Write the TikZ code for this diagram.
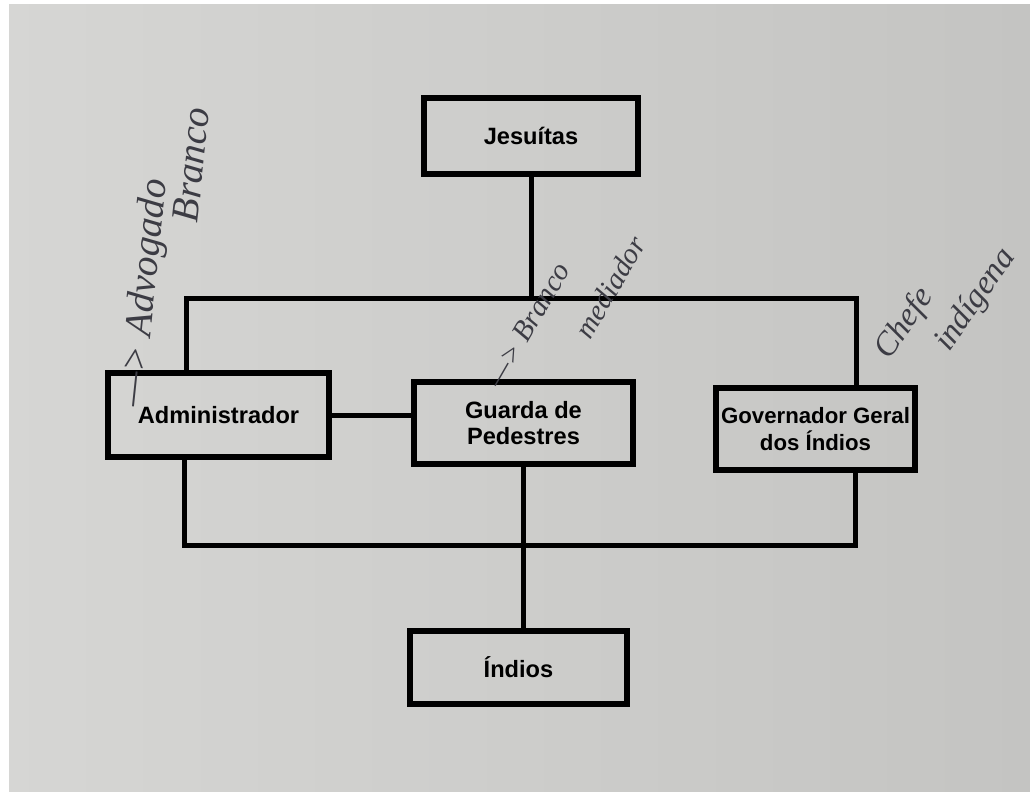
\documentclass[tikz,border=0pt]{standalone}
\usepackage{fontspec}
\setmainfont{Liberation Sans}
\newfontfamily\hand{Liberation Serif}
\definecolor{pageL}{HTML}{D6D6D4}
\definecolor{pageR}{HTML}{C4C4C2}
\definecolor{ink}{HTML}{3C3C44}
\tikzset{
  box/.style={draw=black, line width=4.3pt, inner sep=0pt, align=center,
    font=\fontsize{17}{19}\selectfont\bfseries},
  link/.style={draw=black, line width=3.6pt, line join=miter},
  handnote/.style={text=ink, inner sep=0pt, align=left}
}
\begin{document}
\begin{tikzpicture}[x=0.72pt, y=-0.72pt]
  % page
  \shade[left color=pageL, right color=pageR] (0,0) rectangle (1030,792);
  \fill[white] (0,0) rectangle (9,792);
  \fill[white] (0,0) rectangle (1030,4);
  \useasboundingbox (0,0) rectangle (1030,792);

  % boxes
  \node[box, minimum width=154.1pt, minimum height=54.7pt] (jes) at (531,136) {Jesuítas};
  \node[box, minimum width=159.1pt, minimum height=60.5pt] (adm) at (218.5,415) {Administrador};
  \node[box, minimum width=157.7pt, minimum height=59pt] (gua) at (523.5,423) {Guarda de\\Pedestres};
  \node[box, minimum width=143.3pt, minimum height=59pt,
        font=\fontsize{16}{19.5}\selectfont\bfseries] (gov) at (815.5,429) {Governador Geral\\dos Índios};
  \node[box, minimum width=156.2pt, minimum height=52.6pt] (ind) at (518.5,667.5) {Índios};

  % connector corners
  \coordinate (tl) at (186,298);
  \coordinate (tr) at (856,298);
  \coordinate (bl) at (184,545);
  \coordinate (br) at (855,545);

  % connectors
  \draw[link] (jes.south) -- (jes.south |- tl);
  \draw[link] (adm.north -| tl) -- (tl) -- (tr) -- (gov.north -| tr);
  \draw[link] (adm.east) -- (adm.east -| gua.west);
  \draw[link] (adm.south -| bl) -- (bl) -- (br) -- (gov.south -| br);
  \draw[link] (gua.south) -- (gua.south |- ind.north);

  % handwritten notes
  \node[handnote, rotate=84, font=\hand\itshape\fontsize{28}{23}\selectfont] (n1) at (163,257)
    {—> Advogado\\\hspace*{136pt}Branco};
  \node[handnote, rotate=60, font=\hand\itshape\fontsize{21}{38}\selectfont] (n2) at (566,312)
    {—> Branco\\\hspace*{63pt}mediador};
  \node[handnote, rotate=55, font=\hand\itshape\fontsize{24}{32}\selectfont] (n3) at (946,304)
    {Chefe\\\hspace*{29pt}indígena};
\end{tikzpicture}
\end{document}
